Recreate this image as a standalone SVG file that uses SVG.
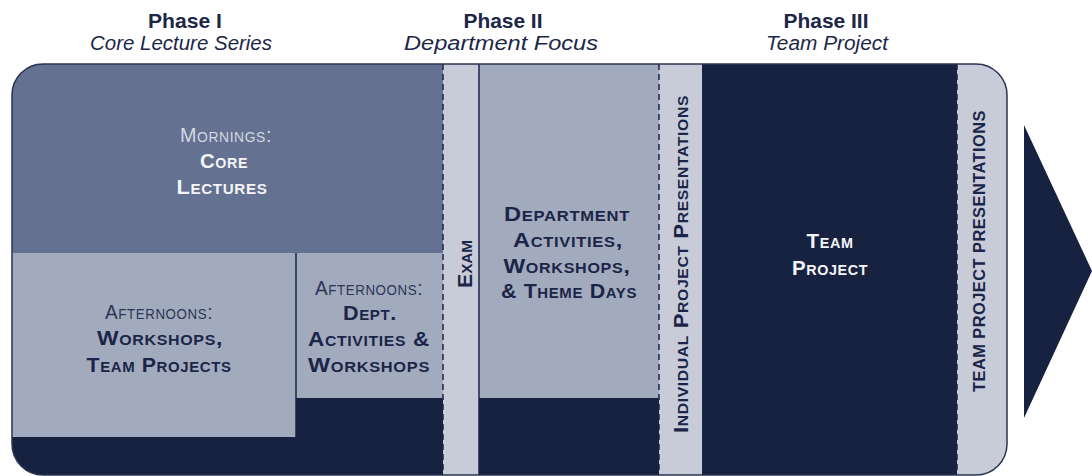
<svg xmlns="http://www.w3.org/2000/svg" width="1092" height="476" viewBox="0 0 1092 476">
<style>
.hd{font-family:"Liberation Sans Narrow","Liberation Sans",sans-serif;fill:#1c2747;text-anchor:middle}
.hb{font-weight:700;font-size:21px}
.hi{font-style:italic;font-size:20px}
.sc{font-family:"Liberation Sans",Arial,sans-serif;font-variant:small-caps;text-anchor:middle;font-size:20px;letter-spacing:0.6px}
.b{font-weight:700}
.dk{fill:#1b2547}
.md{fill:#2b3656}
.lt{fill:#d4d8e2}
.wh{fill:#f4f5f8}
.vt{font-family:"Liberation Sans",Arial,sans-serif;text-anchor:middle;font-weight:700;fill:#1b2547}
.dash{stroke:#1b2547;stroke-width:1.5;stroke-dasharray:6 4;fill:none}
.sol{stroke:#1b2547;stroke-width:1.5;fill:none}
</style>
<defs>
<clipPath id="frame"><rect x="12" y="64" width="995" height="411" rx="31" ry="31"/></clipPath>
</defs>

<g id="headers">
<text class="hd hb" x="185" y="28" textLength="74" lengthAdjust="spacingAndGlyphs">Phase I</text>
<text class="hd hi" x="181" y="50" textLength="182" lengthAdjust="spacingAndGlyphs">Core Lecture Series</text>
<text class="hd hb" x="503" y="28" textLength="79" lengthAdjust="spacingAndGlyphs">Phase II</text>
<text class="hd hi" x="501" y="50" textLength="194" lengthAdjust="spacingAndGlyphs">Department Focus</text>
<text class="hd hb" x="826" y="28" textLength="85" lengthAdjust="spacingAndGlyphs">Phase III</text>
<text class="hd hi" x="827" y="50" textLength="122" lengthAdjust="spacingAndGlyphs">Team Project</text>
</g>

<g clip-path="url(#frame)">
<rect id="base" x="0" y="60" width="1010" height="420" fill="#172240"/>

<g id="mornings">
<rect x="12" y="64" width="431" height="189" fill="#647190"/>
<text class="sc lt" x="226" y="142" textLength="92" lengthAdjust="spacingAndGlyphs">Mornings:</text>
<text class="sc b wh" x="224" y="168" textLength="48" lengthAdjust="spacingAndGlyphs">Core</text>
<text class="sc b wh" x="222" y="194" textLength="91" lengthAdjust="spacingAndGlyphs">Lectures</text>
</g>

<g id="afternoons-phase1">
<rect x="12" y="253" width="284" height="184" fill="#a2aabd"/>
<text class="sc md" x="159" y="319" textLength="108" lengthAdjust="spacingAndGlyphs">Afternoons:</text>
<text class="sc b dk" x="160" y="345" textLength="126" lengthAdjust="spacingAndGlyphs">Workshops,</text>
<text class="sc b dk" x="159" y="372" textLength="145" lengthAdjust="spacingAndGlyphs">Team Projects</text>
</g>

<g id="afternoons-dept">
<rect x="296" y="253" width="147" height="145" fill="#a2aabd"/>
<text class="sc md" x="369" y="295" textLength="108" lengthAdjust="spacingAndGlyphs">Afternoons:</text>
<text class="sc b dk" x="370" y="320" textLength="54" lengthAdjust="spacingAndGlyphs">Dept.</text>
<text class="sc b dk" x="369" y="346" textLength="122" lengthAdjust="spacingAndGlyphs">Activities &amp;</text>
<text class="sc b dk" x="369" y="372" textLength="122" lengthAdjust="spacingAndGlyphs">Workshops</text>
</g>

<g id="exam">
<rect x="443" y="60" width="36" height="420" fill="#c8ccd8"/>
<text class="vt" transform="translate(472,264) rotate(-90)" style="font-variant:small-caps;font-size:21px" textLength="48" lengthAdjust="spacingAndGlyphs">Exam</text>
</g>

<g id="department-activities">
<rect x="479" y="60" width="180" height="338" fill="#a2aabd"/>
<text class="sc b dk" x="567" y="221" textLength="126" lengthAdjust="spacingAndGlyphs">Department</text>
<text class="sc b dk" x="568" y="247" textLength="110" lengthAdjust="spacingAndGlyphs">Activities,</text>
<text class="sc b dk" x="567" y="273" textLength="127" lengthAdjust="spacingAndGlyphs">Workshops,</text>
<text class="sc b dk" x="569" y="298" textLength="136" lengthAdjust="spacingAndGlyphs">&amp; Theme Days</text>
</g>

<g id="individual-presentations">
<rect x="659" y="60" width="43" height="420" fill="#c8ccd8"/>
<text class="vt" transform="translate(688,264) rotate(-90)" style="font-variant:small-caps;font-size:21px;letter-spacing:0.6px" textLength="338" lengthAdjust="spacingAndGlyphs">Individual Project Presentations</text>
</g>

<g id="team-project">
<rect x="702" y="60" width="255" height="420" fill="#172240"/>
<text class="sc b wh" x="830" y="248" textLength="47" lengthAdjust="spacingAndGlyphs">Team</text>
<text class="sc b wh" x="830" y="275" textLength="76" lengthAdjust="spacingAndGlyphs">Project</text>
</g>

<g id="team-presentations">
<rect x="957" y="60" width="53" height="420" fill="#c8ccd8"/>
<text class="vt" transform="translate(985,251) rotate(-90)" style="font-size:17px;font-weight:600;letter-spacing:0.5px" textLength="282" lengthAdjust="spacingAndGlyphs">TEAM PROJECT PRESENTATIONS</text>
</g>

<g id="connectors">
<line class="sol" x1="296" y1="253" x2="296" y2="437"/>
<line class="sol" x1="479" y1="60" x2="479" y2="480"/>
<line class="dash" x1="443" y1="64" x2="443" y2="476"/>
<line class="dash" x1="659" y1="64" x2="659" y2="476"/>
<line class="dash" x1="957" y1="64" x2="957" y2="476"/>
</g>
</g>

<rect id="frame-outline" x="12" y="64" width="995" height="411" rx="31" ry="31" fill="none" stroke="#2a3452" stroke-width="1.5"/>

<g id="arrow">
<polygon points="1024,125 1092,271 1024,418" fill="#172240"/>
</g>
</svg>
